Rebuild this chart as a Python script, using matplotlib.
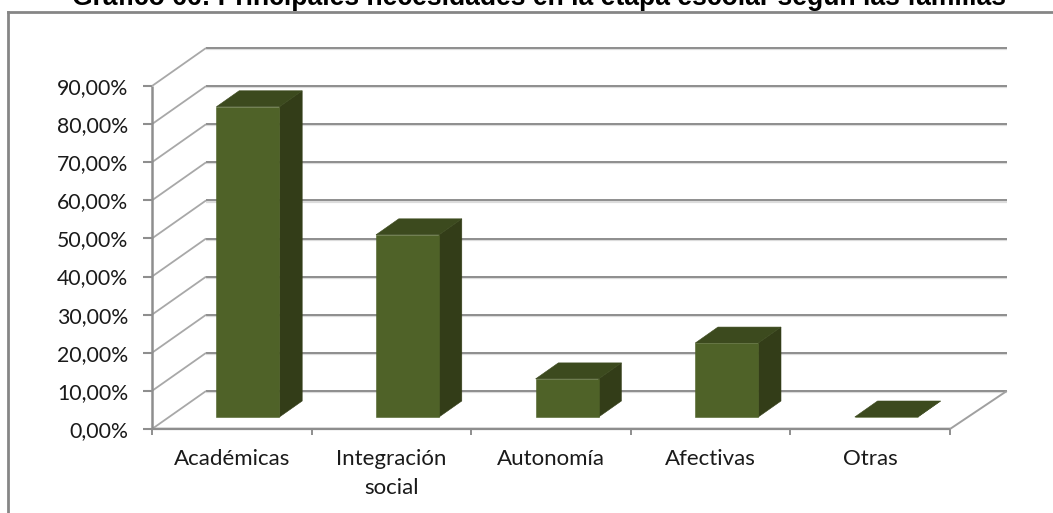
import matplotlib
matplotlib.use("Agg")
import matplotlib.pyplot as plt
from matplotlib.lines import Line2D
from matplotlib.patches import Polygon

W, H = 1053, 513

categories = ["Académicas", "Integración\nsocial", "Autonomía", "Afectivas", "Otras"]
values = [81.4, 47.8, 10.0, 19.4, 0.0]
y_ticks = [0, 10, 20, 30, 40, 50, 60, 70, 80, 90]
y_labels = ["0,00%", "10,00%", "20,00%", "30,00%", "40,00%", "50,00%",
            "60,00%", "70,00%", "80,00%", "90,00%"]
title = "Gráfico 66: Principales necesidades en la etapa escolar según las familias"

FRONT, TOP, SIDE = "#4F6228", "#3C4A1E", "#333D18"
GRID, GRID_SHADOW, FRAME = "#8E8E8E", "#DCDCDC", "#868686"
DX, DY = 0.3386, 9.97      # oblique depth: data units per unit of depth
BAR_W, Z0, Z1 = 0.395, 0.316, 0.737
BAR_SHIFT = -0.006
BACK_EXTRA = 0.017


def proj(x, y, z):
    return x + DX * z, y + DY * z


fig = plt.figure(figsize=(W / 100, H / 100), dpi=100)
ax = fig.add_axes([152 / W, 1 - 429 / H, (950 - 152) / W, (429 - 86) / H])
ax.set_xlim(0, len(categories))
ax.set_ylim(0, 90)
ax.patch.set_visible(False)
for s in ("top", "right", "bottom", "left"):
    ax.spines[s].set_visible(False)

n = len(categories)


def line(p, q, color=GRID, lw=1.5, z=1, dy=0.0):
    ax.plot([p[0], q[0]], [p[1] + dy, q[1] + dy], color=color, lw=lw, zorder=z,
            clip_on=False, solid_capstyle="butt")


# gridlines on back wall and left wall
for v in y_ticks:
    line(proj(0, v, 1), proj(n + BACK_EXTRA, v, 1), GRID_SHADOW, 1.6, 1, dy=-0.28)
    line(proj(0, v, 1), proj(n + BACK_EXTRA, v, 1), GRID, 1.4, 2)
    line(proj(0, v, 0), proj(0, v, 1), "#A8A8A8", 1.3, 2)
# floor edges
line(proj(0, 0, 0), proj(n, 0, 0), GRID_SHADOW, 1.8, 1, dy=0.28)
line(proj(0, 0, 0), proj(n, 0, 0), GRID, 1.6, 2)
line(proj(n, 0, 0), proj(n + BACK_EXTRA, 0, 1), "#A0A0A0", 1.4, 2)
line((0, 0), (0, 90), GRID, 1.8, 2)

# bars
for i, v in enumerate(values):
    c = i + 0.5 + BAR_SHIFT
    l, r = c - BAR_W / 2, c + BAR_W / 2
    a = proj(l, 0, Z0)
    b = proj(r, 0, Z0)
    d = proj(r, v, Z0)
    e = proj(l, v, Z0)
    f = proj(r, 0, Z1)
    g = proj(r, v, Z1)
    h = proj(l, v, Z1)
    for pts, col in (([b, f, g, d], SIDE), ([e, d, g, h], TOP), ([a, b, d, e], FRONT)):
        ax.add_patch(Polygon(pts, closed=True, facecolor=col, edgecolor=col, lw=0.4,
                             zorder=5, clip_on=False))

# ticks
ax.set_yticks(y_ticks)
ax.set_yticklabels(y_labels)
ax.set_xticks(range(n + 1))
ax.set_xticklabels([])
ax.set_xticks([i + 0.5 for i in range(n)], minor=True)
ax.set_xticklabels(categories, minor=True, linespacing=1.55)
ax.tick_params(axis="y", length=6.5, width=1.5, color=GRID, pad=10.5, labelsize=15.3,
               labelcolor="#1A1A1A", labelfontfamily="Lato")
ax.tick_params(axis="x", which="major", length=4, width=1.4, color=GRID)
ax.tick_params(axis="x", which="minor", length=0, pad=14.5, labelsize=16,
               labelcolor="#1A1A1A", labelfontfamily="Lato")

# chart frame, running off the picture on the right and at the bottom
fig.add_artist(Line2D([8.3 / W, 8.3 / W], [0, 1 - 12 / H], color=FRAME, lw=2.0,
                      solid_capstyle="projecting"))
fig.add_artist(Line2D([8.3 / W, 1], [1 - 12.3 / H, 1 - 12.3 / H], color=FRAME, lw=2.0,
                      solid_capstyle="projecting"))

# title, cut by the top edge as in the source
fig.text(538.5 / W, 1 - 5 / H, title, ha="center", va="baseline", fontsize=19.1,
         fontweight="bold", family="Liberation Sans", color="black")

fig.savefig("out.png", dpi=100, facecolor="white")
